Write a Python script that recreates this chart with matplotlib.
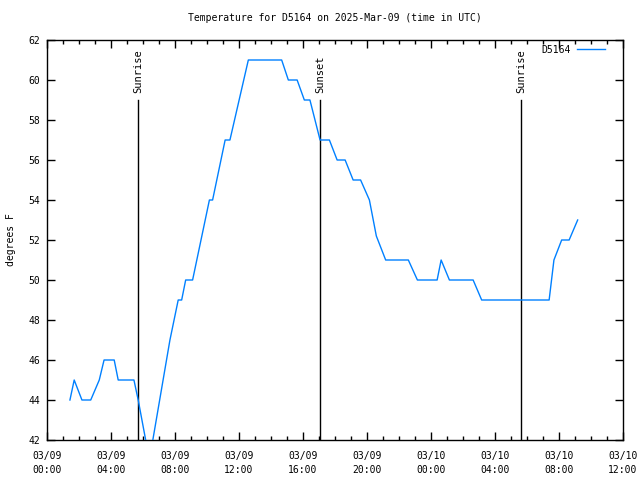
import matplotlib
matplotlib.use("Agg")
import matplotlib.pyplot as plt
import matplotlib.dates as mdates
import pandas as pd

times = ["2025-03-09 01:26", "2025-03-09 01:42", "2025-03-09 02:11", "2025-03-09 02:44",
         "2025-03-09 03:16", "2025-03-09 03:34", "2025-03-09 04:12", "2025-03-09 04:27",
         "2025-03-09 05:26", "2025-03-09 05:42", "2025-03-09 06:24", "2025-03-09 07:41",
         "2025-03-09 08:12", "2025-03-09 08:25", "2025-03-09 08:40", "2025-03-09 09:06",
         "2025-03-09 10:09", "2025-03-09 10:21", "2025-03-09 11:08", "2025-03-09 11:26",
         "2025-03-09 12:35", "2025-03-09 14:40", "2025-03-09 15:05", "2025-03-09 15:38",
         "2025-03-09 16:05", "2025-03-09 16:26", "2025-03-09 17:04", "2025-03-09 17:39",
         "2025-03-09 18:08", "2025-03-09 18:38", "2025-03-09 19:08", "2025-03-09 19:36",
         "2025-03-09 20:09", "2025-03-09 20:35", "2025-03-09 21:10", "2025-03-09 22:35",
         "2025-03-09 23:09", "2025-03-10 00:23", "2025-03-10 00:38", "2025-03-10 01:09",
         "2025-03-10 02:38", "2025-03-10 03:10", "2025-03-10 07:23", "2025-03-10 07:41",
         "2025-03-10 08:10", "2025-03-10 08:38", "2025-03-10 09:10"]
temps = [44, 45, 44, 44,
         45, 46, 46, 45,
         45, 44, 41, 47,
         49, 49, 50, 50,
         54, 54, 57, 57,
         61, 61, 60, 60,
         59, 59, 57, 57,
         56, 56, 55, 55,
         54, 52.2, 51, 51,
         50, 50, 51, 50,
         50, 49, 49, 51,
         52, 52, 53]

sun_events = ["2025-03-09 05:41", "2025-03-09 17:04", "2025-03-10 05:38"]
sun_labels = ["Sunrise", "Sunset", "Sunrise"]
sun_line_top = 59

series_name = "D5164"
title = "Temperature for D5164 on 2025-Mar-09 (time in UTC)"
ylabel = "degrees F"
x_start, x_end = "2025-03-09 00:00", "2025-03-10 12:00"
y_min, y_max = 42, 62

t = pd.to_datetime(times)
fam = "DejaVu Sans Mono"
fs = 7

fig = plt.figure(figsize=(6.4, 4.8), dpi=100)
ax = fig.add_axes([47/640, 40/480, 576/640, 400/480])
ax.plot(t, temps, color="#0080ff", lw=1.0, label=series_name, zorder=3)

for ev, lab in zip(sun_events, sun_labels):
    te = pd.to_datetime(ev)
    ax.plot([te, te], [y_min, sun_line_top], color="black", lw=1.0, zorder=2)
    ax.annotate(lab, xy=(te, sun_line_top), xytext=(0, 5), textcoords="offset points",
                rotation=90, ha="center", va="bottom", fontsize=7.5, family=fam)

ax.set_xlim(pd.to_datetime(x_start), pd.to_datetime(x_end))
ax.set_ylim(y_min, y_max)
ax.xaxis.set_major_locator(mdates.HourLocator(byhour=range(0, 24, 4)))
ax.xaxis.set_minor_locator(mdates.HourLocator())
ax.xaxis.set_major_formatter(mdates.DateFormatter("%m/%d\n%H:%M"))
ax.set_yticks(range(y_min, y_max + 1, 2))

ax.tick_params(axis="both", which="major", direction="in", length=6, width=1,
               top=True, right=True, labelsize=fs, color="black")
ax.tick_params(axis="x", which="minor", direction="in", length=3, width=1, top=True)
ax.tick_params(axis="x", which="major", pad=8)
ax.tick_params(axis="y", which="major", pad=5)
for lab in ax.get_xticklabels() + ax.get_yticklabels():
    lab.set_family(fam)
    lab.set_linespacing(1.45)
for s in ax.spines.values():
    s.set_linewidth(1.0)

ax.set_title(title, fontsize=fs, family=fam, pad=14)
ax.set_ylabel(ylabel, fontsize=fs, family=fam, labelpad=9)

leg = ax.legend(loc="upper right", frameon=False, prop={"family": fam, "size": fs},
                markerfirst=False, handlelength=2.9, handletextpad=0.6,
                borderaxespad=0.2, borderpad=0.3)
leg._legend_box.align = "right"
leg.set_bbox_to_anchor((1.0 - 13/576, 1.0), transform=ax.transAxes)

fig.savefig("out.png", dpi=100)
